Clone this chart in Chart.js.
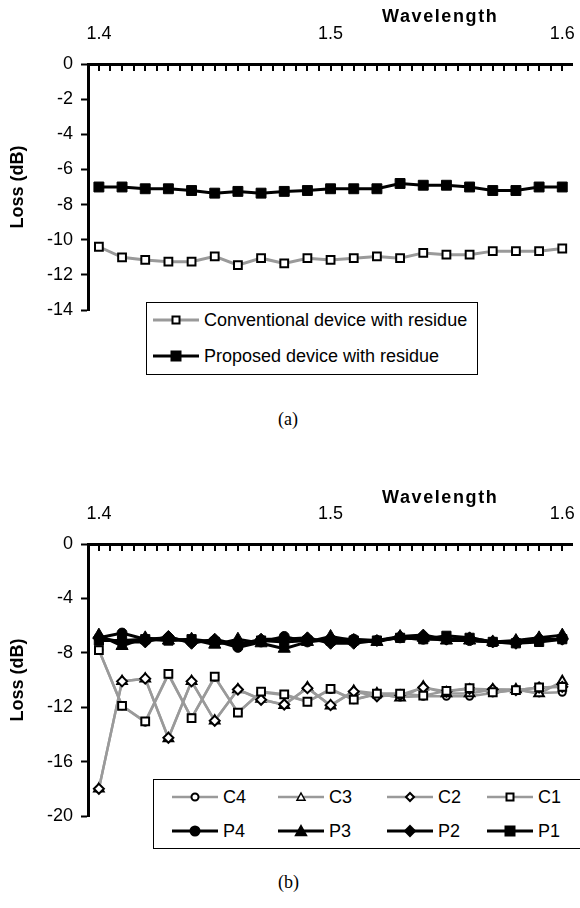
<!DOCTYPE html>
<html>
<head>
<meta charset="utf-8">
<script src="https://cdn.jsdelivr.net/npm/chart.js@4.4.1/dist/chart.umd.min.js"></script>
<style>
  body { margin: 0; width: 580px; height: 908px; overflow: hidden; background: #fff; position: relative; font-family: Arial, "Liberation Sans", sans-serif; color: #000; }
  .wrap { position: absolute; left: 0; }
  .wl { position: absolute; font-weight: bold; font-size: 18px; letter-spacing: 1.6px; line-height: 22px; }
  .legend { position: absolute; border: 1px solid #000; background: #fff; }
  .item { position: absolute; font-size: 18px; line-height: 22px; white-space: nowrap; display: flex; align-items: center; }
  .item svg { margin-right: 5px; }
  .cap { position: absolute; font-family: "Times New Roman", "Liberation Serif", serif; font-size: 18px; line-height: 22px; }
</style>
</head>
<body>
<div class="wrap" style="top:0"><canvas id="chartA" width="580" height="330"></canvas></div>
<div class="wl" style="left:382px; top:5px">Wavelength</div>
<div class="legend" id="legendA" style="left:146px; top:302px; width:330px; height:71px"></div>
<div class="cap" style="left:278px; top:408px">(a)</div>

<div class="wrap" style="top:480px"><canvas id="chartB" width="580" height="356"></canvas></div>
<div class="wl" style="left:382px; top:486px">Wavelength</div>
<div class="legend" id="legendB" style="left:153px; top:779px; width:440px; height:68px"></div>
<div class="cap" style="left:278px; top:871px">(b)</div>

<script>
// wavelength (um)
const wavelength = [1.40, 1.41, 1.42, 1.43, 1.44, 1.45, 1.46, 1.47, 1.48, 1.49, 1.50,
                    1.51, 1.52, 1.53, 1.54, 1.55, 1.56, 1.57, 1.58, 1.59, 1.60];
const xTickLabels = [1.4, 1.5, 1.6];

// (a) loss with residue, dB
const conventional = [-10.4, -11.0, -11.15, -11.25, -11.25, -10.95, -11.45, -11.05, -11.35, -11.05, -11.15,
                      -11.05, -10.95, -11.05, -10.75, -10.85, -10.85, -10.65, -10.65, -10.65, -10.5];
const proposed = [-7.0, -7.0, -7.1, -7.1, -7.2, -7.35, -7.25, -7.35, -7.25, -7.2, -7.1,
                  -7.1, -7.1, -6.8, -6.9, -6.9, -7.0, -7.2, -7.2, -7.0, -7.0];

// (b) conventional devices C1..C4 and proposed P1..P4, dB
const c4 = [-7.8, -11.9, -13.1, -9.6, -12.8, -9.8, -12.4, -10.9, -11.1, -11.6, -10.7,
            -11.45, -11.05, -11.25, -11.2, -11.2, -11.2, -10.95, -10.7, -10.95, -10.9];
const c3 = [-18.0, -10.1, -9.9, -14.3, -10.1, -13.0, -10.7, -11.4, -11.85, -10.55, -11.9,
            -10.8, -11.0, -11.3, -10.5, -11.0, -11.0, -10.7, -10.7, -11.0, -10.1];
const c2 = [-18.0, -10.1, -9.9, -14.25, -10.1, -13.0, -10.7, -11.45, -11.8, -10.6, -11.85,
            -10.85, -11.2, -11.1, -10.55, -10.85, -10.65, -10.7, -10.75, -10.55, -10.5];
const c1 = [-7.8, -11.9, -13.05, -9.55, -12.8, -9.75, -12.4, -10.85, -11.05, -11.6, -10.65,
            -11.45, -11.0, -11.0, -11.15, -10.8, -10.6, -10.9, -10.75, -10.55, -10.5];
const p4 = [-6.9, -6.55, -7.0, -6.9, -7.2, -7.1, -7.6, -7.2, -6.8, -7.2, -7.0,
            -7.0, -7.1, -6.9, -7.0, -7.0, -7.1, -7.2, -7.2, -7.0, -7.0];
const p3 = [-6.7, -7.5, -6.9, -7.1, -7.0, -7.4, -7.0, -7.3, -7.7, -7.2, -6.8,
            -7.1, -7.2, -6.8, -6.9, -7.1, -7.1, -7.2, -7.1, -6.9, -6.7];
const p2 = [-6.9, -7.2, -7.2, -6.8, -7.3, -7.0, -7.4, -7.0, -7.0, -6.9, -7.3,
            -7.3, -7.1, -6.8, -6.7, -7.0, -6.9, -7.2, -7.3, -7.1, -7.0];
const p1 = [-7.1, -7.1, -7.0, -7.1, -7.0, -7.2, -7.4, -7.1, -7.2, -7.1, -7.1,
            -7.1, -7.1, -6.9, -7.0, -6.75, -6.9, -7.2, -7.3, -7.2, -7.0];

const GRAY = '#9a9a9a';
Chart.defaults.color = '#000';
Chart.defaults.font.family = 'Arial, "Liberation Sans", sans-serif';

function points(vals) {
  return vals.map((v, i) => ({ x: wavelength[i], y: v }));
}

// Excel style tick marks hanging down inside the plot from the top axis
const innerTicks = {
  id: 'innerTicks',
  afterDraw(chart) {
    const sx = chart.scales.x, ctx = chart.ctx, top = chart.chartArea.top;
    ctx.save();
    ctx.strokeStyle = '#000';
    ctx.lineWidth = 2;
    sx.ticks.forEach(t => {
      const px = Math.round(sx.getPixelForValue(t.value));
      ctx.beginPath();
      ctx.moveTo(px, top);
      ctx.lineTo(px, top + 7);
      ctx.stroke();
    });
    ctx.restore();
  }
};

function options(yMin, yStep) {
  return {
    responsive: false,
    animation: false,
    layout: { padding: { left: 0, right: 4, top: 0, bottom: 20 } },
    plugins: { legend: { display: false }, tooltip: { enabled: false } },
    elements: { line: { tension: 0 } },
    scales: {
      x: {
        type: 'linear',
        position: 'top',
        min: 1.3953,
        max: 1.6042,
        afterFit(s) { s.height = 64; },
        afterBuildTicks(s) {
          const t = [];
          for (let k = 0; k <= 40; k++) t.push({ value: Math.round((1.4 + k * 0.005) * 1000) / 1000 });
          s.ticks = t;
        },
        // invisible outer tick marks only lift the labels off the axis
        grid: { display: true, drawOnChartArea: false, drawTicks: true, tickLength: 19, tickColor: 'rgba(0,0,0,0)' },
        border: { display: true, color: '#000', width: 3 },
        ticks: {
          autoSkip: false,
          maxRotation: 0,
          padding: 0,
          font: { size: 18 },
          callback: v => {
            const m = xTickLabels.find(l => Math.abs(l - v) < 1e-6);
            return m === undefined ? '' : m.toFixed(1);
          }
        }
      },
      y: {
        min: yMin,
        max: 0,
        afterFit(s) { s.width = 88; },
        grid: { display: true, drawOnChartArea: false, tickLength: 7, tickWidth: 2, tickColor: '#000' },
        border: { display: true, color: '#000', width: 3 },
        ticks: { stepSize: yStep, padding: 8, font: { size: 18 } },
        title: { display: true, text: 'Loss (dB)', font: { size: 18, weight: 'bold' }, padding: { top: 7, bottom: 0 } }
      }
    }
  };
}

function openSeries(vals, style, r) {
  return {
    data: points(vals), borderColor: GRAY, borderWidth: 2.5,
    pointStyle: style, pointRadius: r, pointBackgroundColor: '#fff',
    pointBorderColor: '#000', pointBorderWidth: 2
  };
}
function filledSeries(vals, style, r) {
  return {
    data: points(vals), borderColor: '#000', borderWidth: 3,
    pointStyle: style, pointRadius: r, pointBackgroundColor: '#000',
    pointBorderColor: '#000', pointBorderWidth: 1
  };
}

new Chart(document.getElementById('chartA'), {
  type: 'line',
  data: {
    datasets: [
      Object.assign(filledSeries(proposed, 'rect', 7), { label: 'Proposed device with residue' }),
      Object.assign(openSeries(conventional, 'rect', 5.5), { label: 'Conventional device with residue', borderWidth: 3 })
    ]
  },
  options: options(-14, 2),
  plugins: [innerTicks]
});

new Chart(document.getElementById('chartB'), {
  type: 'line',
  data: {
    datasets: [
      Object.assign(filledSeries(p1, 'rect', 6.5), { label: 'P1' }),
      Object.assign(filledSeries(p2, 'rectRot', 6), { label: 'P2' }),
      Object.assign(filledSeries(p3, 'triangle', 7), { label: 'P3' }),
      Object.assign(filledSeries(p4, 'circle', 5), { label: 'P4' }),
      Object.assign(openSeries(c1, 'rect', 5.5), { label: 'C1' }),
      Object.assign(openSeries(c2, 'rectRot', 5), { label: 'C2' }),
      Object.assign(openSeries(c3, 'triangle', 5.5), { label: 'C3' }),
      Object.assign(openSeries(c4, 'circle', 3.5), { label: 'C4' })
    ]
  },
  options: options(-20, 4),
  plugins: [innerTicks]
});

// legends (html, so they can sit over the plot like the original)
function marker(shape, filled, size) {
  const f = filled ? '#000' : '#fff';
  const s = size;
  const c = 23, m = 11;
  if (shape === 'circle') return `<circle cx="${c}" cy="${m}" r="${s}" fill="${f}" stroke="#000" stroke-width="2"/>`;
  if (shape === 'rect') return `<rect x="${c - s}" y="${m - s}" width="${2 * s}" height="${2 * s}" fill="${f}" stroke="#000" stroke-width="2"/>`;
  if (shape === 'rectRot') return `<polygon points="${c},${m - s} ${c + s},${m} ${c},${m + s} ${c - s},${m}" fill="${f}" stroke="#000" stroke-width="2"/>`;
  return `<polygon points="${c},${m - s} ${c + s},${m + s * 0.8} ${c - s},${m + s * 0.8}" fill="${f}" stroke="#000" stroke-width="1.5"/>`;
}
function legendItem(box, left, top, text, color, lw, shape, filled, size) {
  const d = document.createElement('div');
  d.className = 'item';
  d.style.left = left + 'px';
  d.style.top = top + 'px';
  d.innerHTML = `<svg width="46" height="22"><line x1="0" y1="11" x2="46" y2="11" stroke="${color}" stroke-width="${lw}"/>${marker(shape, filled, size)}</svg><span>${text}</span>`;
  box.appendChild(d);
}

const legA = document.getElementById('legendA');
legendItem(legA, 6, 6, 'Conventional device with residue', GRAY, 3, 'rect', false, 3.5);
legendItem(legA, 6, 42, 'Proposed device with residue', '#000', 3, 'rect', true, 4.5);

const legB = document.getElementById('legendB');
const cols = [18, 124, 233, 333];
const cNames = ['C4', 'C3', 'C2', 'C1'];
const pNames = ['P4', 'P3', 'P2', 'P1'];
const shapes = ['circle', 'triangle', 'rectRot', 'rect'];
const cSize = [3.5, 4, 4, 3.5];
const pSize = [4.5, 5.5, 5, 4.5];
cols.forEach((x, i) => {
  legendItem(legB, x, 6, cNames[i], GRAY, 2.5, shapes[i], false, cSize[i]);
  legendItem(legB, x, 40, pNames[i], '#000', 3, shapes[i], true, pSize[i]);
});
</script>
</body>
</html>
